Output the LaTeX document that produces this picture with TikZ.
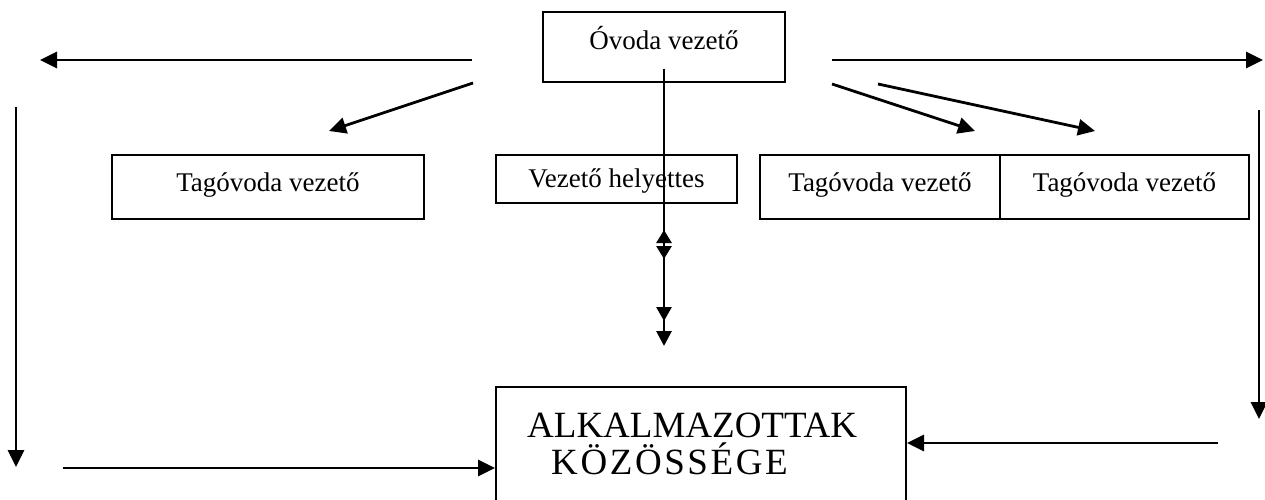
\documentclass[tikz,border=0pt]{standalone}
\usepackage{fontspec}
\setmainfont{Liberation Serif}
\usetikzlibrary{arrows.meta}
\begin{document}
\begin{tikzpicture}[x=1pt,y=-1pt,
  box/.style={draw,line width=2pt,inner xsep=0pt,inner ysep=0pt,font=\fontsize{27}{30}\selectfont},
  arr/.style={line width=2.8pt,-{Triangle[length=17pt,width=16pt]}}]
\clip (0,0) rectangle (1265,500);
\useasboundingbox (0,0) rectangle (1265,500);
% boxes
\node[box,minimum width=242pt,text height=38pt,text depth=32pt] (ovoda) at (664,47) {Óvoda vezető};
\node[box,minimum width=312pt,text height=36pt,text depth=28pt] (tag1) at (268,187) {Tagóvoda vezető};
\node[box,minimum width=241pt,text height=32pt,text depth=16pt] (helyettes) at (616.5,179) {Vezető helyettes};
\node[box,minimum width=240pt,text height=36pt,text depth=28pt] (tag2) at (880,187) {Tagóvoda vezető};
\node[box,minimum width=249pt,text height=36pt,text depth=28pt] (tag3) at (1124.5,187) {Tagóvoda vezető};
\node[draw,line width=2pt,anchor=north west,minimum width=410pt,minimum height=140pt] (alk) at (495,386) {};
\node[anchor=north west,align=left,inner sep=0pt,font=\fontsize{37}{37}\selectfont] (alktext) at (527,413)
  {ALKALMAZOTTAK\\\hspace*{24pt}{\addfontfeature{LetterSpace=7}KÖZÖSSÉGE}};
% free ends
\coordinate (l0) at (472,60);  \coordinate (l1) at (40,60);
\coordinate (r0) at (832,60);  \coordinate (r1) at (1263,60);
\coordinate (d0) at (473,83);  \coordinate (d1) at (329,131);
\coordinate (e0) at (832,84);  \coordinate (e1) at (975,131);
\coordinate (f0) at (878,84);  \coordinate (f1) at (1095,131);
\coordinate (v0) at (16,107);  \coordinate (v1) at (16,467);
\coordinate (w0) at (1259,110); \coordinate (w1) at (1259,419);
\coordinate (b0) at (63,468);  \coordinate (b1) at (alk.west |- 0,468);
\coordinate (c0) at (1218,443); \coordinate (c1) at (alk.east |- 0,443);
\coordinate (m0) at (664,69);
\coordinate (m1) at (664,230); \coordinate (m2) at (664,259);
\coordinate (m3) at (664,321); \coordinate (m4) at (664,346);
% arrows
\draw[arr] (l0) -- (l1);
\draw[arr] (r0) -- (r1);
\draw[arr] (d0) -- (d1);
\draw[arr] (e0) -- (e1);
\draw[arr] (f0) -- (f1);
\draw[arr] (v0) -- (v1);
\draw[arr] (w0) -- (w1);
\draw[arr] (b0) -- (b1);
\draw[arr] (c0) -- (c1);
\draw[arr,-{Triangle[length=13pt,width=15pt]}] (m0) -- (m2);
\draw[arr,-{Triangle[length=14pt,width=15pt]}] (m0) -- (m3);
\draw[arr,{Triangle[length=13pt,width=15pt]}-{Triangle[length=15pt,width=15pt]}] (m1) -- (m4);
\end{tikzpicture}
\end{document}
